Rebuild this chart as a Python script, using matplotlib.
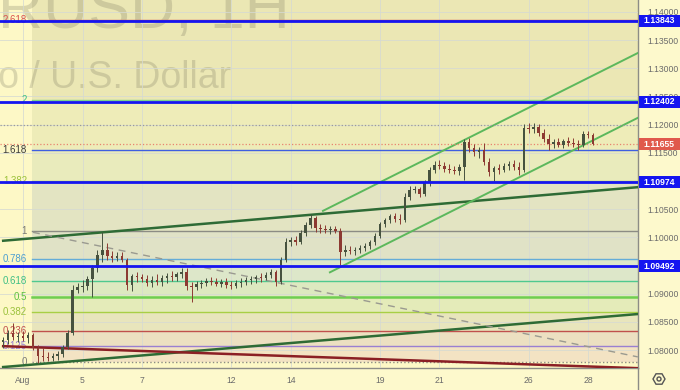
import matplotlib
matplotlib.use("Agg")
import matplotlib.pyplot as plt
import numpy as np
from matplotlib.patches import Rectangle, RegularPolygon, Circle
from matplotlib.lines import Line2D
from matplotlib.transforms import IdentityTransform, blended_transform_factory

plt.rcParams["font.family"] = ["Liberation Sans", "DejaVu Sans"]

# EUR/USD 4h candles, Jul 31 - Aug 28
opens = [1.0814, 1.0818, 1.0830, 1.0823, 1.0825, 1.0821, 1.0827, 1.0804, 1.0789, 1.0788,
         1.0786, 1.0789, 1.0793, 1.0805, 1.0830, 1.0907, 1.0912, 1.0914, 1.0926, 1.0946,
         1.0969, 1.0978, 1.0967, 1.0963, 1.0967, 1.0960, 1.0915, 1.0931, 1.0930, 1.0926,
         1.0919, 1.0924, 1.0921, 1.0928, 1.0931, 1.0930, 1.0935, 1.0938, 1.0914, 1.0912,
         1.0917, 1.0919, 1.0922, 1.0921, 1.0917, 1.0921, 1.0915, 1.0914, 1.0919, 1.0921,
         1.0924, 1.0926, 1.0930, 1.0928, 1.0933, 1.0938, 1.0921, 1.0960, 1.0992, 1.0995,
         1.0992, 1.1008, 1.1022, 1.1034, 1.1017, 1.1015, 1.1013, 1.1015, 1.1011, 1.0974,
         1.0978, 1.0976, 1.0978, 1.0981, 1.0985, 1.0992, 1.1002, 1.1024, 1.1031, 1.1038,
         1.1032, 1.1031, 1.1072, 1.1084, 1.1086, 1.1077, 1.1096, 1.1119, 1.1128, 1.1127,
         1.1121, 1.1119, 1.1118, 1.1125, 1.1169, 1.1158, 1.1151, 1.1155, 1.1134, 1.1116,
         1.1123, 1.1119, 1.1127, 1.1130, 1.1125, 1.1119, 1.1194, 1.1192, 1.1196, 1.1185,
         1.1174, 1.1166, 1.1169, 1.1164, 1.1171, 1.1167, 1.1166, 1.1164, 1.1183, 1.1181]
highs = [1.0823, 1.0836, 1.0848, 1.0832, 1.0834, 1.0832, 1.0830, 1.0809, 1.0804, 1.0797,
         1.0795, 1.0798, 1.0809, 1.0836, 1.0915, 1.0919, 1.0924, 1.0931, 1.0951, 1.0978,
         1.1009, 1.0990, 1.0976, 1.0974, 1.0974, 1.0963, 1.0935, 1.0938, 1.0935, 1.0933,
         1.0931, 1.0935, 1.0933, 1.0937, 1.0940, 1.0938, 1.0946, 1.0946, 1.0921, 1.0922,
         1.0924, 1.0928, 1.0930, 1.0928, 1.0926, 1.0928, 1.0922, 1.0924, 1.0928, 1.0930,
         1.0931, 1.0933, 1.0937, 1.0938, 1.0944, 1.0942, 1.0965, 1.0999, 1.1001, 1.1002,
         1.1013, 1.1027, 1.1041, 1.1038, 1.1024, 1.1022, 1.1020, 1.1020, 1.1017, 1.0986,
         1.0985, 1.0983, 1.0986, 1.0990, 1.0995, 1.1008, 1.1027, 1.1034, 1.1041, 1.1043,
         1.1041, 1.1079, 1.1091, 1.1091, 1.1089, 1.1102, 1.1125, 1.1135, 1.1137, 1.1134,
         1.1130, 1.1127, 1.1130, 1.1174, 1.1176, 1.1166, 1.1160, 1.1167, 1.1141, 1.1127,
         1.1130, 1.1132, 1.1135, 1.1137, 1.1134, 1.1201, 1.1203, 1.1203, 1.1201, 1.1192,
         1.1183, 1.1174, 1.1176, 1.1174, 1.1178, 1.1176, 1.1173, 1.1189, 1.1189, 1.1185]
lows = [1.0804, 1.0811, 1.0818, 1.0814, 1.0816, 1.0812, 1.0800, 1.0777, 1.0781, 1.0781,
        1.0781, 1.0782, 1.0788, 1.0802, 1.0827, 1.0901, 1.0903, 1.0907, 1.0894, 1.0938,
        1.0956, 1.0960, 1.0956, 1.0958, 1.0956, 1.0907, 1.0905, 1.0921, 1.0921, 1.0914,
        1.0912, 1.0915, 1.0914, 1.0919, 1.0922, 1.0922, 1.0928, 1.0907, 1.0885, 1.0907,
        1.0910, 1.0914, 1.0915, 1.0914, 1.0912, 1.0910, 1.0908, 1.0910, 1.0912, 1.0915,
        1.0917, 1.0919, 1.0921, 1.0924, 1.0928, 1.0914, 1.0917, 1.0956, 1.0985, 1.0986,
        1.0988, 1.1002, 1.1017, 1.1009, 1.1008, 1.1008, 1.1006, 1.1008, 1.0951, 1.0967,
        1.0970, 1.0969, 1.0972, 1.0976, 1.0979, 1.0986, 1.0999, 1.1018, 1.1025, 1.1027,
        1.1024, 1.1027, 1.1066, 1.1079, 1.1072, 1.1073, 1.1091, 1.1114, 1.1121, 1.1116,
        1.1114, 1.1112, 1.1111, 1.1102, 1.1151, 1.1144, 1.1141, 1.1128, 1.1109, 1.1100,
        1.1112, 1.1116, 1.1119, 1.1119, 1.1111, 1.1116, 1.1185, 1.1185, 1.1180, 1.1169,
        1.1155, 1.1158, 1.1160, 1.1158, 1.1162, 1.1160, 1.1155, 1.1160, 1.1176, 1.1164]
closes = [1.0818, 1.0830, 1.0823, 1.0825, 1.0821, 1.0827, 1.0804, 1.0789, 1.0788, 1.0786,
          1.0789, 1.0793, 1.0805, 1.0830, 1.0907, 1.0912, 1.0914, 1.0926, 1.0946, 1.0969,
          1.0978, 1.0967, 1.0963, 1.0967, 1.0960, 1.0915, 1.0931, 1.0930, 1.0926, 1.0919,
          1.0924, 1.0921, 1.0928, 1.0931, 1.0930, 1.0935, 1.0938, 1.0914, 1.0912, 1.0917,
          1.0919, 1.0922, 1.0921, 1.0917, 1.0921, 1.0915, 1.0914, 1.0919, 1.0921, 1.0924,
          1.0926, 1.0930, 1.0928, 1.0933, 1.0938, 1.0921, 1.0960, 1.0992, 1.0995, 1.0992,
          1.1008, 1.1022, 1.1034, 1.1017, 1.1015, 1.1013, 1.1015, 1.1011, 1.0974, 1.0978,
          1.0976, 1.0978, 1.0981, 1.0985, 1.0992, 1.1002, 1.1024, 1.1031, 1.1038, 1.1032,
          1.1031, 1.1072, 1.1084, 1.1086, 1.1077, 1.1096, 1.1119, 1.1128, 1.1127, 1.1121,
          1.1119, 1.1118, 1.1125, 1.1169, 1.1158, 1.1151, 1.1155, 1.1134, 1.1116, 1.1123,
          1.1119, 1.1127, 1.1130, 1.1125, 1.1119, 1.1194, 1.1192, 1.1196, 1.1185, 1.1174,
          1.1166, 1.1169, 1.1164, 1.1171, 1.1167, 1.1166, 1.1164, 1.1183, 1.1181, 1.11655]

# x axis: trading day index counted from Aug 1 (6 candles per day)
day_index = [0, 2, 4, 7, 9, 12, 14, 17, 19]
day_labels = ["Aug", "5", "7", "12", "14", "19", "21", "26", "28"]

# price scale (1.09500 and 1.11000 sit under the level tags)
price_ticks = [1.08, 1.085, 1.09, 1.10, 1.105, 1.115, 1.12, 1.125, 1.13, 1.135, 1.14]

# horizontal levels
key_levels = [1.13843, 1.12402, 1.10974, 1.09492]
last_price = 1.11655
round_level = 1.1200

# fibonacci retracement
fib_low, fib_high = 1.0779, 1.1011
fib_levels = [0, 0.125, 0.236, 0.382, 0.5, 0.618, 0.786, 1, 1.382, 1.618, 2, 2.618]
fib_names = ["0", "0.125", "0.236", "0.382", "0.5", "0.618", "0.786", "1", "1.382", "1.618", "2", "2.618"]
fib_colors = ["#8c8c84", "#9a7fd1", "#c0504d", "#a8cf45", "#6fcf4f", "#4fc98f",
              "#64acd8", "#8c8c84", "#a8cf45", "#3f5fe0", "#7ed48a", "#d9534f"]
fib_text_colors = ["#7a7a72", "#9a7fd1", "#c0504d", "#9cc23c", "#5cc040", "#3fbf85",
                   "#4d9fd0", "#7a7a72", "#9cc23c", "#3a3a3a", "#3fbf85", "#d9534f"]
fib_fills = ["#f3e3c3", "#ece0c1", "#e8e5bc", "#e4ebb9", "#dde9c0", "#dde7c9",
             "#e0e2c6", "#e3e4c2", "#e9ebbc", "#eeecb8", "#ebe7b4", "#ebe7b4"]

# trend lines: (candle index, price) end points
green_upper = [(0, 1.0994), (128, 1.1089)]
green_lower = [(0, 1.0770), (128, 1.0864)]
maroon_line = [(0, 1.0807), (128, 1.0768)]
dashed_line = [(6, 1.1009), (128, 1.0788)]
channel_top = [(64.5, 1.1047), (128, 1.1327)]
channel_bottom = [(65.9, 1.0938), (128, 1.1212)]

W, H = 680, 390
fig = plt.figure(figsize=(W / 100, H / 100), dpi=100, facecolor="#fdf9cc")
ax = fig.add_axes([0, 22 / H, 638 / W, 368 / H])
ax.set_facecolor("#fdf8c6")
ax.set_xlim(-0.64, 128.04)
ax.set_ylim(1.07683, 1.14210)

# fib bands and lines
fib_x0 = 5.8
xr = [fib_x0, 130]
fib_prices = [fib_low + f * (fib_high - fib_low) for f in fib_levels]
for i, p in enumerate(fib_prices):
    top = fib_prices[i + 1] if i + 1 < len(fib_prices) else 1.16
    ax.fill_between(xr, p, top, color=fib_fills[i], lw=0, zorder=1)
for p, c, name, tc in zip(fib_prices, fib_colors, fib_names, fib_text_colors):
    ls = ":" if name == "0" else "-"
    lw = 1.8 if name == "0.5" else 1.0
    ax.plot(xr, [p, p], color=c, lw=lw, ls=ls, zorder=3)
    ax.text(4.8, p, name, color=tc, fontsize=7, ha="right", va="center", zorder=3)

# watermark
ax.text(100 / W, 1 - 28 / H, "EURUSD, 1H", transform=fig.transFigure, ha="center",
        va="baseline", fontsize=45, color="#77765e", alpha=0.26, zorder=1.5)
ax.text(86 / W, 1 - 88 / H, "Euro / U.S. Dollar", transform=fig.transFigure, ha="center",
        va="baseline", fontsize=27, color="#77765e", alpha=0.26, zorder=1.5)

# grid
ax.set_axisbelow(False)
ax.grid(True, color="#d6dad2", lw=0.7, alpha=0.8)

# trend lines
def seg(pts, **kw):
    (x0, y0), (x1, y1) = pts
    ax.plot([x0, x1], [y0, y1], **kw)

seg(green_upper, color="#2e6b35", lw=1.8, zorder=4)
seg(green_lower, color="#2e6b35", lw=1.8, zorder=4)
seg(maroon_line, color="#8b1f24", lw=1.8, zorder=4)
seg(dashed_line, color="#9a9a90", lw=1.0, ls=(0, (5, 4)), zorder=4)
seg(channel_top, color="#5cb85c", lw=1.4, zorder=4)
seg(channel_bottom, color="#5cb85c", lw=1.4, zorder=4)

# dotted price lines
ax.axhline(round_level, color="#9a9a9a", lw=0.9, ls=":", zorder=4)
ax.axhline(last_price, color="#e8836f", lw=0.9, ls=":", zorder=4)

# candles
x = np.arange(len(closes))
o = np.array(opens); c = np.array(closes)
up = c >= o
cols = np.where(up, "#46523f", "#8c3a32")
ax.vlines(x, lows, highs, colors=cols, lw=0.7, zorder=5)
body_lo = np.minimum(o, c)
body_h = np.maximum(np.abs(c - o), 0.00006)
ax.bar(x, body_h, bottom=body_lo, width=0.5, color=cols, lw=0, zorder=5)

# key horizontal levels
for lv in key_levels:
    ax.axhline(lv, color="#1515f0", lw=2.0, zorder=6)

# axes styling
for s in ["top", "left"]:
    ax.spines[s].set_visible(False)
for s in ["right", "bottom"]:
    ax.spines[s].set_color("#8c8c86")
    ax.spines[s].set_linewidth(1.0)

ax.yaxis.tick_right()
ax.set_yticks(price_ticks)
ax.set_yticklabels([f"{t:.5f}" for t in price_ticks])
ax.tick_params(axis="y", length=0, pad=7, labelsize=6.2, labelcolor="#6b6b6b")
ax.set_xticks([4 + 6 * d for d in day_index])
ax.set_xticklabels(day_labels)
ax.tick_params(axis="x", length=0, pad=6, labelsize=6.2, labelcolor="#6b6b6b")

# price labels on the axis
trans = blended_transform_factory(ax.transAxes, ax.transData)
box_h = 12 * (1.14210 - 1.07683) / 368
for lv, fc in [(lv, "#1515f0") for lv in key_levels] + [(last_price, "#e0594c")]:
    ax.add_patch(Rectangle((1.0015, lv - box_h / 2), 44 / 638, box_h, transform=trans,
                           facecolor=fc, edgecolor="none", clip_on=False, zorder=10))
    ax.text(1 + 21 / 638, lv, f"{lv:.5f}", transform=trans, color="white", fontsize=6.2,
            fontweight="bold", ha="center", va="center", clip_on=False, zorder=11)

# axis corner separator and settings icon
fig.add_artist(Line2D([638 / W, 638 / W], [0, 22 / H], transform=fig.transFigure,
                      color="#8c8c86", lw=1.0))
fig.add_artist(RegularPolygon((659, 11), 6, radius=6, orientation=np.pi / 6,
                              transform=IdentityTransform(), fill=False,
                              edgecolor="#555555", lw=1.0))
fig.add_artist(Circle((659, 11), 2.0, transform=IdentityTransform(), fill=False,
                      edgecolor="#555555", lw=1.0))

fig.savefig("out.png", dpi=100, facecolor=fig.get_facecolor())
